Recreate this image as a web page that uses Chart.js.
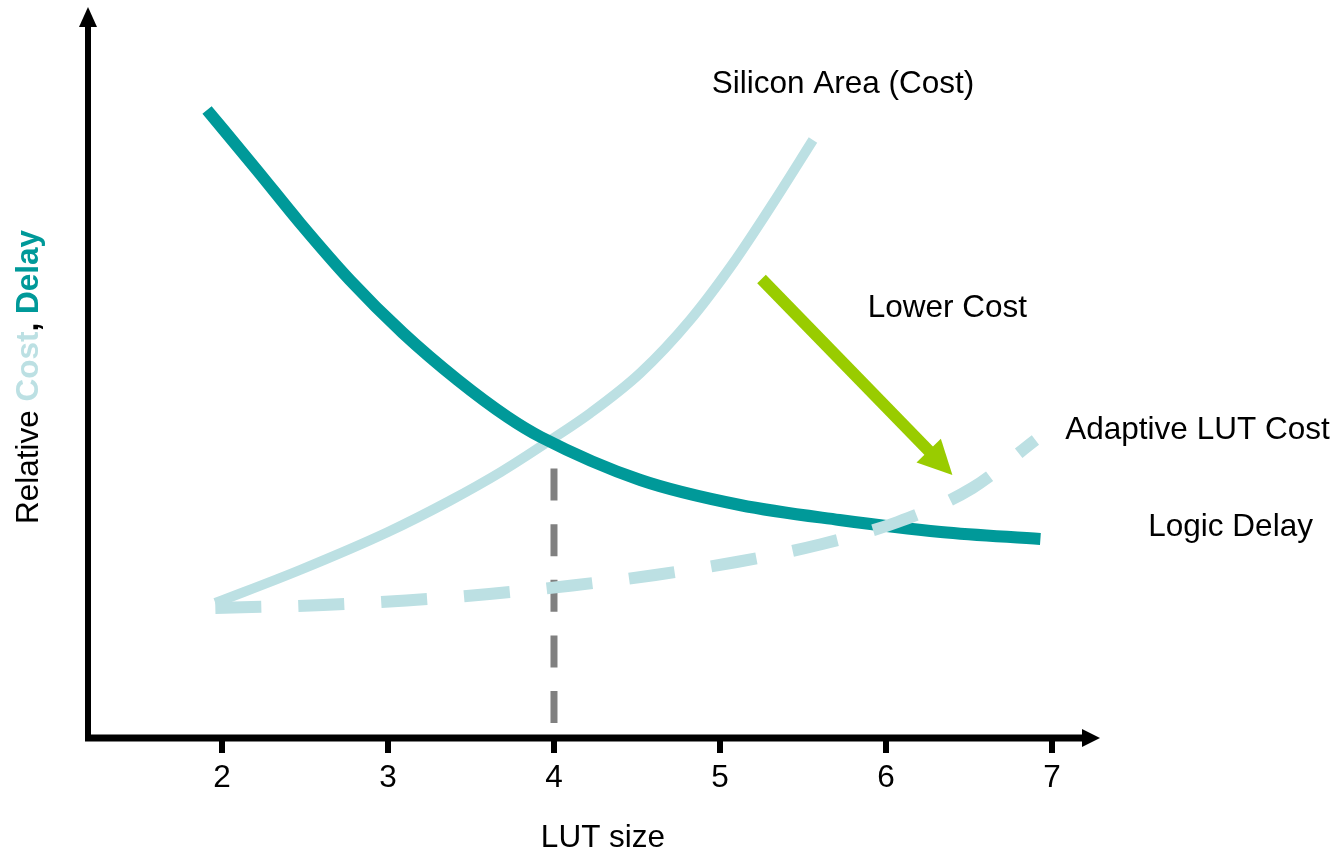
<!DOCTYPE html>
<html>
<head>
<meta charset="utf-8">
<script src="https://cdn.jsdelivr.net/npm/chart.js@4/dist/chart.umd.min.js"></script>
<style>
  html, body { margin: 0; padding: 0; background: #ffffff; }
  canvas { display: block; }
</style>
</head>
<body>
<canvas id="chart" width="1338" height="853"></canvas>
<script>
// LUT size tick labels
const xTicks = [2, 3, 4, 5, 6, 7];

// Logic delay versus LUT size
const delayX = [1.91, 2.21, 2.47, 2.77, 3.09, 3.42, 3.72, 3.92, 4.52, 5.12, 5.72, 6.33, 6.93];
const delayY = [63.0, 57.0, 51.7, 46.0, 40.7, 36.0, 32.3, 30.3, 26.0, 23.5, 22.0, 20.8, 20.1];

// Silicon area (cost) versus LUT size
const areaX = [1.96, 2.47, 3.00, 3.37, 3.68, 3.98, 4.22, 4.52, 4.82, 5.08, 5.32, 5.56];
const areaY = [13.7, 17.0, 20.8, 23.9, 26.8, 30.0, 32.7, 36.7, 42.0, 47.7, 53.7, 60.0];

// Adaptive LUT cost versus LUT size
const adaptiveX = [1.96, 2.61, 3.11, 3.61, 4.11, 4.61, 5.10, 5.59, 6.07, 6.52, 6.90];
const adaptiveY = [13.2, 13.5, 13.95, 14.6, 15.45, 16.5, 17.8, 19.5, 21.8, 25.2, 30.0];

// Crossover marker at LUT size 4
const markerX = [4, 4];
const markerY = [1.7, 29.5];

// "Lower Cost" arrow: start, tip
const arrowX = [5.25, 6.40];
const arrowY = [46.1, 26.5];

// Curve annotations
const noteText = ['Silicon Area (Cost)', 'Lower Cost', 'Adaptive LUT Cost', 'Logic Delay'];
const noteX = [4.95, 5.89, 7.08, 7.58];
const noteY = [65.55, 43.15, 30.95, 21.25];

const FONT = '"Liberation Sans", Arial, Helvetica, sans-serif';
const FSIZE = 31.5;
const TEAL = '#009999';
const LIGHT = '#bce0e3';
const GREEN = '#99cc00';
const GREY = '#808080';

const pts = (xs, ys) => xs.map((x, i) => ({ x: x, y: ys[i] }));

// Axis lines with arrowheads, y-axis title, annotations and the arrow
const decorations = {
  id: 'decorations',
  afterDraw(chart) {
    const ctx = chart.ctx;
    const area = chart.chartArea;
    const xs = chart.scales.x;
    const ys = chart.scales.y;
    ctx.save();

    // axes
    const ax = area.left;
    const ay = area.bottom - 2;
    ctx.fillStyle = '#000';
    ctx.strokeStyle = '#000';
    ctx.lineCap = 'butt';
    ctx.lineWidth = 7;
    ctx.beginPath();
    ctx.moveTo(ax - 3, ay);
    ctx.lineTo(area.right - 17, ay);
    ctx.stroke();
    ctx.beginPath();
    ctx.moveTo(area.right - 18, ay - 9);
    ctx.lineTo(area.right, ay);
    ctx.lineTo(area.right - 18, ay + 9);
    ctx.closePath();
    ctx.fill();

    ctx.lineWidth = 6;
    ctx.beginPath();
    ctx.moveTo(ax, ay + 3);
    ctx.lineTo(ax, area.top + 16);
    ctx.stroke();
    ctx.beginPath();
    ctx.moveTo(ax - 9, area.top + 17);
    ctx.lineTo(ax, area.top - 3);
    ctx.lineTo(ax + 9, area.top + 17);
    ctx.closePath();
    ctx.fill();

    // arrow
    const p0 = { x: xs.getPixelForValue(arrowX[0]), y: ys.getPixelForValue(arrowY[0]) };
    const p1 = { x: xs.getPixelForValue(arrowX[1]), y: ys.getPixelForValue(arrowY[1]) };
    const len = Math.hypot(p1.x - p0.x, p1.y - p0.y);
    const ux = (p1.x - p0.x) / len, uy = (p1.y - p0.y) / len;
    const headLen = 34, headHalf = 17;
    const bx = p1.x - ux * headLen, by = p1.y - uy * headLen;
    ctx.strokeStyle = GREEN;
    ctx.fillStyle = GREEN;
    ctx.lineWidth = 12;
    ctx.beginPath();
    ctx.moveTo(p0.x, p0.y);
    ctx.lineTo(bx + ux * 2, by + uy * 2);
    ctx.stroke();
    ctx.beginPath();
    ctx.moveTo(p1.x, p1.y);
    ctx.lineTo(bx - uy * headHalf, by + ux * headHalf);
    ctx.lineTo(bx + uy * headHalf, by - ux * headHalf);
    ctx.closePath();
    ctx.fill();

    // annotations
    ctx.fillStyle = '#000';
    ctx.font = FSIZE + 'px ' + FONT;
    ctx.textAlign = 'left';
    ctx.textBaseline = 'middle';
    noteText.forEach((t, i) => {
      ctx.fillText(t, xs.getPixelForValue(noteX[i]), ys.getPixelForValue(noteY[i]));
    });

    // x-axis title
    ctx.textAlign = 'center';
    ctx.fillText('LUT size', (xs.getPixelForValue(4) + xs.getPixelForValue(5)) / 2 - 34, 838);

    // y-axis title in mixed colours
    const parts = [
      { t: 'Relative ', c: '#000', b: false },
      { t: 'Cost', c: LIGHT, b: true },
      { t: ', ', c: '#000', b: true },
      { t: 'Delay', c: TEAL, b: true }
    ];
    const fontOf = p => (p.b ? 'bold ' : '') + FSIZE + 'px ' + FONT;
    let total = 0;
    parts.forEach(p => { ctx.font = fontOf(p); p.w = ctx.measureText(p.t).width; total += p.w; });
    ctx.translate(29, 377);
    ctx.rotate(-Math.PI / 2);
    ctx.textAlign = 'left';
    let cx = -total / 2;
    parts.forEach(p => {
      ctx.font = fontOf(p);
      ctx.fillStyle = p.c;
      ctx.fillText(p.t, cx, 0);
      cx += p.w;
    });
    ctx.restore();
  }
};

new Chart(document.getElementById('chart'), {
  type: 'line',
  data: {
    datasets: [
      {
        label: 'Adaptive LUT Cost',
        data: pts(adaptiveX, adaptiveY),
        borderColor: LIGHT,
        borderWidth: 12,
        borderDash: [46, 37],
        cubicInterpolationMode: 'monotone',
        pointRadius: 0,
        order: 1
      },
      {
        label: 'Logic Delay',
        data: pts(delayX, delayY),
        borderColor: TEAL,
        borderWidth: 12,
        cubicInterpolationMode: 'monotone',
        pointRadius: 0,
        order: 2
      },
      {
        label: 'Silicon Area (Cost)',
        data: pts(areaX, areaY),
        borderColor: LIGHT,
        borderWidth: 10,
        cubicInterpolationMode: 'monotone',
        pointRadius: 0,
        order: 3
      },
      {
        label: 'LUT size 4',
        data: pts(markerX, markerY),
        borderColor: GREY,
        borderWidth: 7,
        borderDash: [32, 23.6],
        tension: 0,
        pointRadius: 0,
        order: 4
      }
    ]
  },
  options: {
    responsive: false,
    animation: false,
    events: [],
    layout: { padding: { left: 88, right: 238, top: 10, bottom: 0 } },
    plugins: { legend: { display: false }, tooltip: { enabled: false } },
    scales: {
      x: {
        type: 'linear',
        min: 1.193,
        max: 7.289,
        afterBuildTicks: s => { s.ticks = xTicks.map(v => ({ value: v })); },
        afterFit: s => { s.height = 113; },
        border: { display: false },
        grid: { drawOnChartArea: false, drawTicks: true, tickLength: 13, tickWidth: 6, tickColor: '#000', lineWidth: 6, color: '#000' },
        ticks: { color: '#000', font: { family: FONT, size: FSIZE }, padding: 6, maxRotation: 0, autoSkip: false }
      },
      y: {
        type: 'linear',
        display: false,
        min: 0,
        max: 73
      }
    }
  },
  plugins: [decorations]
});
</script>
</body>
</html>
